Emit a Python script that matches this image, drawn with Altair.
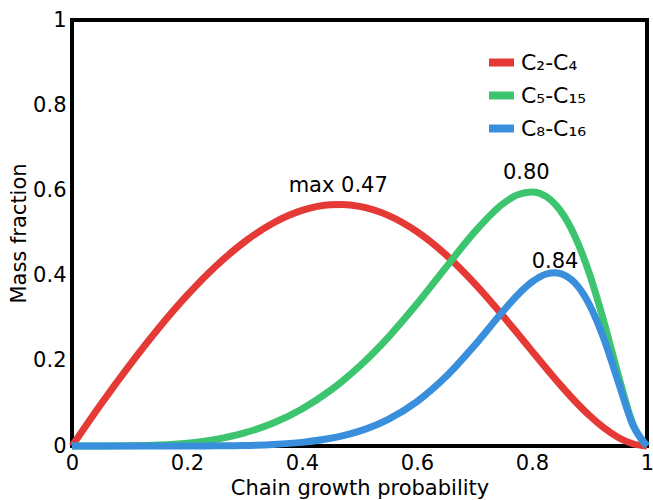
import altair as alt
import pandas as pd

alpha = [0, 0.05, 0.1, 0.15, 0.2, 0.25, 0.3, 0.35, 0.4, 0.45, 0.47, 0.5, 0.55, 0.6,
         0.65, 0.7, 0.75, 0.775, 0.8, 0.825, 0.84, 0.85, 0.875, 0.9, 0.925, 0.95, 0.975, 1.0]
c2_c4 = [0, .0975, .1895, .2753, .3533, .4219, .4792, .5235, .5530, .5663, .5668, .5625, .5413, .5030,
         .4491, .3818, .3047, .2639, .2227, .1818, .1579, .1423, .1051, .0715, .0427, .0201, .0053, 0]
c5_c15 = [0, 0, .0005, .0022, .0067, .0156, .0308, .0540, .0870, .1312, .1522, .1872, .2552, .3337,
          .4187, .5021, .5693, .5898, .5965, .5852, .5678, .5513, .4913, .4038, .2918, .1667, .0535, 0]
c8_c16 = [0, 0, 0, 0, .0001, .0004, .0013, .0036, .0085, .0181, .0239, .0350, .0626, .1043,
          .1624, .2360, .3170, .3545, .3851, .4038, .4069, .4047, .3821, .3313, .2517, .1505, .0505, 0]

series_names = ["C₂-C₄", "C₅-C₁₅", "C₈-C₁₆"]
series_colors = ["#e53935", "#3cc46f", "#3a8fdc"]

ann_text = ["max 0.47", "0.80", "0.84"]
ann_x = [0.463, 0.79, 0.84]
ann_y = [0.610, 0.642, 0.432]

rows = []
for name, vals in zip(series_names, [c2_c4, c5_c15, c8_c16]):
    for a, v in zip(alpha, vals):
        rows.append({"alpha": a, "frac": v, "series": name})
df = pd.DataFrame(rows)
ann = pd.DataFrame({"t": ann_text, "x": ann_x, "y": ann_y})

FONT = "DejaVu Sans"

xscale = alt.Scale(domain=[0, 1], nice=False, zero=False)
yscale = alt.Scale(domain=[0, 1], nice=False, zero=False)

lines = alt.Chart(df).mark_line(strokeWidth=7, interpolate="monotone").encode(
    x=alt.X("alpha:Q", scale=xscale,
            axis=alt.Axis(title="Chain growth probability", values=[0, 0.2, 0.4, 0.6, 0.8, 1],
                          format="~g", titlePadding=4, labelPadding=6)),
    y=alt.Y("frac:Q", scale=yscale,
            axis=alt.Axis(title="Mass fraction", values=[0, 0.2, 0.4, 0.6, 0.8, 1],
                          format="~g", titlePadding=3, labelPadding=6)),
    color=alt.Color("series:N", sort=series_names,
                    scale=alt.Scale(domain=series_names, range=series_colors),
                    legend=alt.Legend(title=None, orient="none", legendX=413, legendY=26,
                                      symbolType="stroke", symbolSize=625, symbolStrokeWidth=8,
                                      labelFontSize=22, labelFont=FONT, labelColor="black",
                                      rowPadding=-4, labelOffset=3, padding=0)),
)

texts = alt.Chart(ann).mark_text(fontSize=21, font=FONT, color="black", baseline="middle").encode(
    x=alt.X("x:Q", scale=xscale),
    y=alt.Y("y:Q", scale=yscale),
    text="t:N",
)

chart = alt.layer(lines, texts).properties(
    width=575, height=426,
    autosize=alt.AutoSizeParams(type="none"),
    padding={"left": 72, "top": 20, "right": 6, "bottom": 54},
).configure_view(
    stroke="black", strokeWidth=4
).configure_axis(
    domain=False, ticks=False, grid=False,
    labelFont=FONT, labelFontSize=21, labelColor="black",
    titleFont=FONT, titleFontSize=21, titleFontWeight="normal", titleColor="black",
    labelBound=False, labelFlush=False, labelOverlap=False,
)

chart.save("out.html", embed_options={"renderer": "svg", "actions": False})
